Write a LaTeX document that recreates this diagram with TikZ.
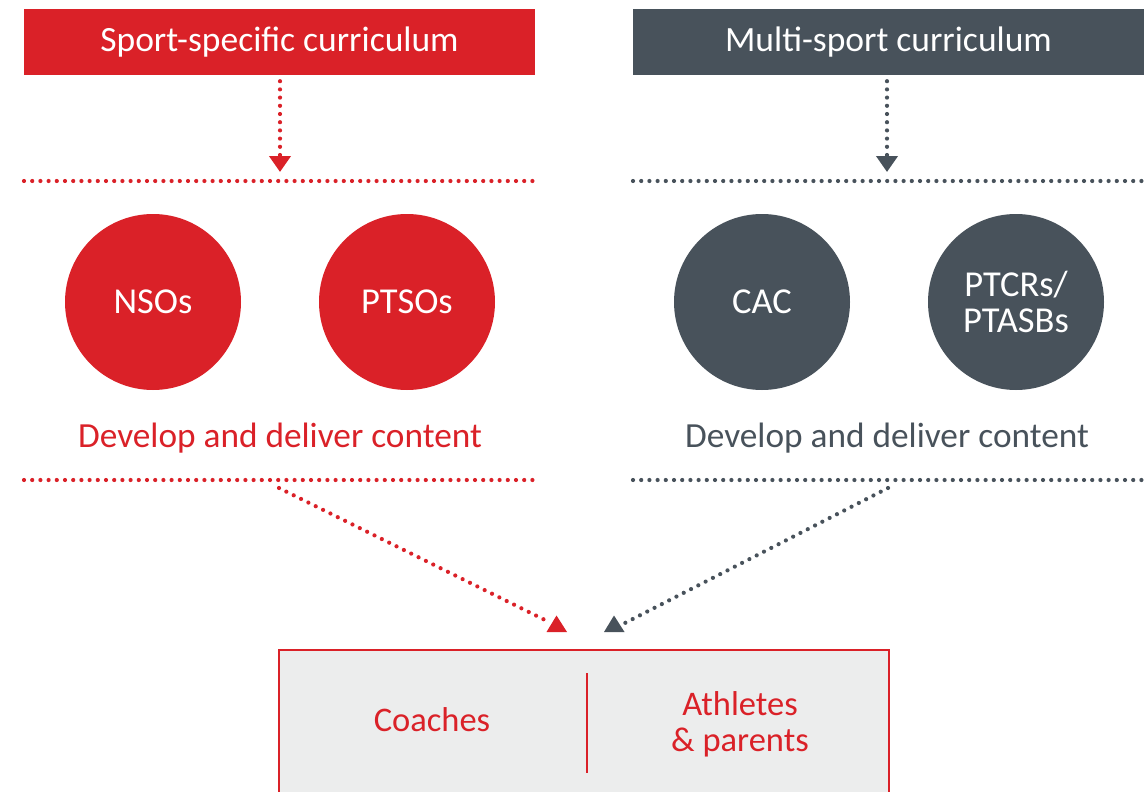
\documentclass[tikz,border=0pt]{standalone}
\usepackage{fontspec}
\setmainfont{Carlito}
\usetikzlibrary{arrows.meta}
\definecolor{cred}{HTML}{DA2128}
\definecolor{cgrey}{HTML}{48525B}
\definecolor{cbox}{HTML}{ECEDED}
\begin{document}
\begin{tikzpicture}[x=1pt,y=-1pt,
  header/.style={inner sep=0pt, minimum width=511pt, minimum height=66pt, text=white, font=\fontsize{35.5}{40}\selectfont},
  circ/.style={circle, inner sep=0pt, minimum size=176pt, text=white, align=center, font=\fontsize{36.5}{36}\selectfont},
  dots/.style={line width=4.2pt, line cap=round, dash pattern=on 0pt off 8.2pt},
  tip/.style={-{Triangle[width=21pt,length=16pt]}},
  devtext/.style={font=\fontsize{35.3}{40}\selectfont},
  boxtext/.style={text=cred, align=center, font=\fontsize{34.5}{36}\selectfont}]
\clip (0,0) rectangle (1144,792);
\useasboundingbox (0,0) rectangle (1144,792);

% headers
\node[header, fill=cred] (ss) at (279.5,42) {Sport-specific curriculum};
\node[header, fill=cgrey] (ms) at (888.5,42) {Multi-sport curriculum};

% top dotted rules
\coordinate (r1a) at (24,181);  \coordinate (r1b) at (535,181);
\coordinate (g1a) at (633,181); \coordinate (g1b) at (1146,181);
\draw[dots, cred] (r1a) -- (r1b);
\draw[dots, cgrey] (g1a) -- (g1b);

% vertical arrows
\coordinate (rt) at (280,172);
\coordinate (gt) at (887,172);
\draw[dots, cred, tip] (ss.south -| rt) ++(0,6) -- (rt);
\draw[dots, cgrey, tip] (ms.south -| gt) ++(0,6) -- (gt);

% circles
\node[circ, fill=cred] (nso) at (153,302) {NSOs};
\node[circ, fill=cred] (ptso) at (407,302) {PTSOs};
\node[circ, fill=cgrey] (cac) at (762,302) {CAC};
\node[circ, fill=cgrey] (ptcr) at (1016,302) {PTCRs/\\PTASBs};

% develop text
\node[devtext, text=cred] (dr) at (280,438.5) {Develop and deliver content};
\node[devtext, text=cgrey] (dg) at (887,438.5) {Develop and deliver content};

% lower dotted rules
\coordinate (r2a) at (24,480);  \coordinate (r2b) at (535,480);
\coordinate (g2a) at (633,480); \coordinate (g2b) at (1146,480);
\draw[dots, cred] (r2a) -- (r2b);
\draw[dots, cgrey] (g2a) -- (g2b);

% diagonal connectors
\coordinate (rs) at (279,488);
\coordinate (re) at (549,622);
\coordinate (gs) at (888,488);
\coordinate (ge) at (623,624);
\draw[dots, cred] (rs) -- (re);
\draw[dots, cgrey] (gs) -- (ge);
\fill[cred] (546.5,632) -- (567,632) -- (556.5,615.5) -- cycle;
\fill[cgrey] (604,632) -- (624.5,632) -- (614,615.5) -- cycle;

% bottom box
\node[draw=cred, fill=cbox, line width=2pt, minimum width=610pt, minimum height=170pt, inner sep=0pt] (bx) at (584,735) {};
\coordinate (dv1) at (587,673); \coordinate (dv2) at (587,773);
\draw[cred, line width=2.5pt] (dv1) -- (dv2);
\node[boxtext] (co) at (432,720) {Coaches};
\node[boxtext] (ap) at (740,724) {Athletes\\\& parents};
\end{tikzpicture}
\end{document}
